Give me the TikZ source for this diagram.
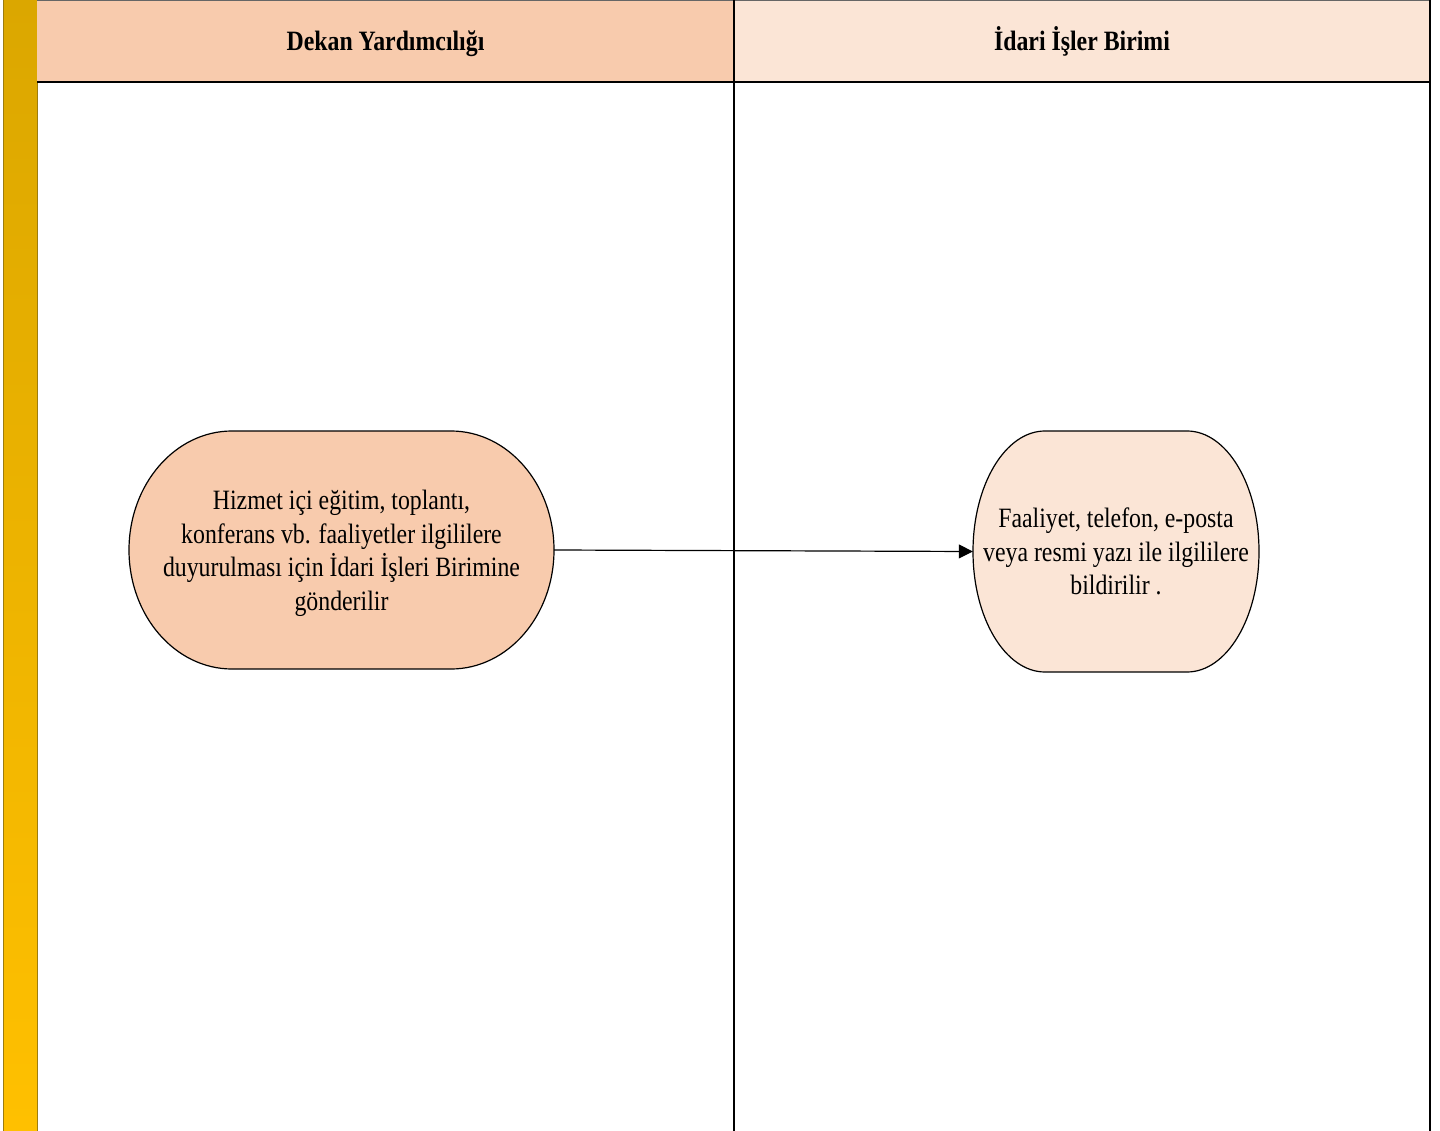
\documentclass[tikz,border=0pt]{standalone}
\usepackage{fontspec}
\setmainfont{Liberation Serif}[FakeStretch=0.85]
\usetikzlibrary{arrows.meta}
\definecolor{laneA}{HTML}{F8CBAD}
\definecolor{laneB}{HTML}{FBE5D6}
\definecolor{barTop}{HTML}{DBA700}
\definecolor{barBot}{HTML}{FFC000}
\definecolor{barEdge}{HTML}{9C7C10}
\tikzset{
  lanehead/.style={font=\fontsize{28}{32}\selectfont\bfseries, anchor=base},
  steptext/.style={font=\fontsize{28}{33.5}\selectfont, align=center, anchor=center, inner sep=0pt},
  stepshape/.style={draw=black, line width=1.2pt},
  laneline/.style={draw=black, line width=1.4pt},
  flow/.style={draw=black, line width=1.2pt, -{Triangle[length=14pt,width=14pt]}},
}
\begin{document}
\begin{tikzpicture}[x=1pt,y=1pt]
\useasboundingbox (0,0) rectangle (1440,-1131);
% side bar
\shade[top color=barTop, bottom color=barBot] (3,0) rectangle (37,-1131);
\draw[barEdge, line width=1pt] (3,0) -- (3,-1131) (37,0) -- (37,-1131);
% lane headers
\fill[laneA] (37,0) rectangle (734,-82);
\fill[laneB] (734,0) rectangle (1430,-82);
\draw[gray!80!black, line width=1.2pt] (37,-0.6) -- (1430,-0.6);
\draw[laneline] (37,-82) -- (1430,-82);
\draw[laneline] (734,0) -- (734,-1131);
\draw[laneline] (1430,0) -- (1430,-1131);
\node[lanehead] (hA) at (385.5,-51) {Dekan Yardımcılığı};
\node[lanehead] (hB) at (1082,-51) {İdari İşler Birimi};
% step shapes (elliptical ends)
\filldraw[stepshape, fill=laneA] (232,-431) -- (451,-431)
  arc[start angle=90, end angle=-90, x radius=103, y radius=119]
  -- (232,-669)
  arc[start angle=270, end angle=90, x radius=103, y radius=119] -- cycle;
\filldraw[stepshape, fill=laneB] (1045,-431) -- (1187,-431)
  arc[start angle=90, end angle=-90, x radius=72, y radius=120.5]
  -- (1045,-672)
  arc[start angle=270, end angle=90, x radius=72, y radius=120.5] -- cycle;
% step texts
\node[steptext, minimum width=425pt, minimum height=238pt] (s1) at (341.5,-553.5)
  {Hizmet içi eğitim, toplantı,\\konferans vb. faaliyetler ilgililere\\duyurulması için İdari İşleri Birimine\\gönderilir};
\node[steptext, minimum width=286pt, minimum height=241pt] (s2) at (1116,-551.5)
  {Faaliyet, telefon, e-posta\\veya resmi yazı ile ilgililere\\bildirilir .};
% connector
\draw[flow] ([yshift=3.5pt]s1.east) -- (s2.west);
\end{tikzpicture}
\end{document}
